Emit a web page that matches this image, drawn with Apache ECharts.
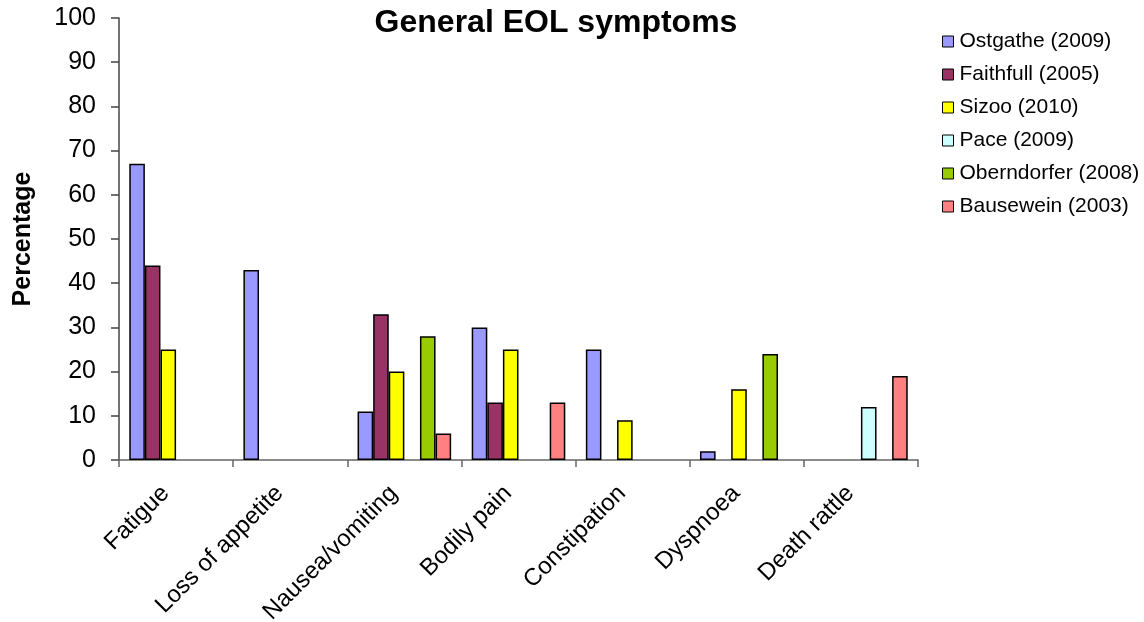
<!DOCTYPE html>
<html>
<head>
<meta charset="utf-8">
<script src="https://cdn.jsdelivr.net/npm/echarts@6/dist/echarts.min.js"></script>
<style>html,body{margin:0;padding:0;background:#fff}#c{width:1144px;height:622px}</style>
</head>
<body>
<div id="c"></div>
<script>
const categories = ['Fatigue', 'Loss of appetite', 'Nausea/vomiting', 'Bodily pain', 'Constipation', 'Dyspnoea', 'Death rattle'];
const ostgathe    = [67, 43, 11, 30, 25, 2, null];
const faithfull   = [44, null, 33, 13, null, null, null];
const sizoo       = [25, null, 20, 25, 9, 16, null];
const pace        = [null, null, null, null, null, null, 12];
const oberndorfer = [null, null, 28, null, null, 24, null];
const bausewein   = [null, null, 6, 13, null, null, 19];
const yTicks = [0, 10, 20, 30, 40, 50, 60, 70, 80, 90, 100];

const seriesDefs = [
  ['Ostgathe (2009)', ostgathe, '#9999FF'],
  ['Faithfull (2005)', faithfull, '#993366'],
  ['Sizoo (2010)', sizoo, '#FFFF00'],
  ['Pace (2009)', pace, '#CCFFFF'],
  ['Oberndorfer (2008)', oberndorfer, '#99CC00'],
  ['Bausewein (2003)', bausewein, '#FF8080']
];

const FONT = 'Liberation Sans, Arial, sans-serif';
const chart = echarts.init(document.getElementById('c'), null, {renderer: 'canvas'});
chart.setOption({
  animation: false,
  backgroundColor: '#fff',
  textStyle: {fontFamily: FONT},
  title: {
    text: 'General EOL symptoms',
    left: 551, top: 2, textAlign: 'center',
    textStyle: {fontSize: 32, fontWeight: 'bold', color: '#000', fontFamily: FONT}
  },
  legend: {
    orient: 'vertical',
    left: 937, top: 26,
    itemWidth: 11, itemHeight: 11, itemGap: 12,
    icon: 'rect',
    itemStyle: {borderColor: '#000', borderWidth: 1},
    textStyle: {fontSize: 21, color: '#000', fontFamily: FONT, padding: [0, 0, 0, 1]},
    data: seriesDefs.map(s => s[0])
  },
  grid: {left: 119, right: 226, top: 18, bottom: 162, containLabel: false, outerBoundsMode: 'none'},
  xAxis: {
    type: 'category',
    data: categories,
    axisLine: {lineStyle: {color: '#666', width: 1.5}},
    axisTick: {show: true, inside: false, length: 7, lineStyle: {color: '#666', width: 1.5}},
    axisLabel: {rotate: 45, fontSize: 24, color: '#000', margin: 19, interval: 0,
                padding: [0, 15, 0, 0], fontFamily: FONT}
  },
  yAxis: {
    type: 'value',
    min: yTicks[0], max: yTicks[yTicks.length - 1], interval: 10,
    name: 'Percentage',
    nameLocation: 'middle', nameGap: 83, nameRotate: 90,
    nameTextStyle: {fontSize: 25, fontWeight: 'bold', color: '#000', fontFamily: FONT},
    splitLine: {show: false},
    axisLine: {show: true, lineStyle: {color: '#444', width: 1.5}},
    axisTick: {show: true, length: 8, lineStyle: {color: '#444', width: 1.5}},
    axisLabel: {fontSize: 25, color: '#000', margin: 23, fontFamily: FONT}
  },
  series: seriesDefs.map(s => ({
    name: s[0],
    type: 'bar',
    data: s[1],
    barGap: '0%',
    barCategoryGap: '18%',
    itemStyle: {color: s[2], borderColor: '#000', borderWidth: 1.5}
  }))
});
</script>
</body>
</html>
